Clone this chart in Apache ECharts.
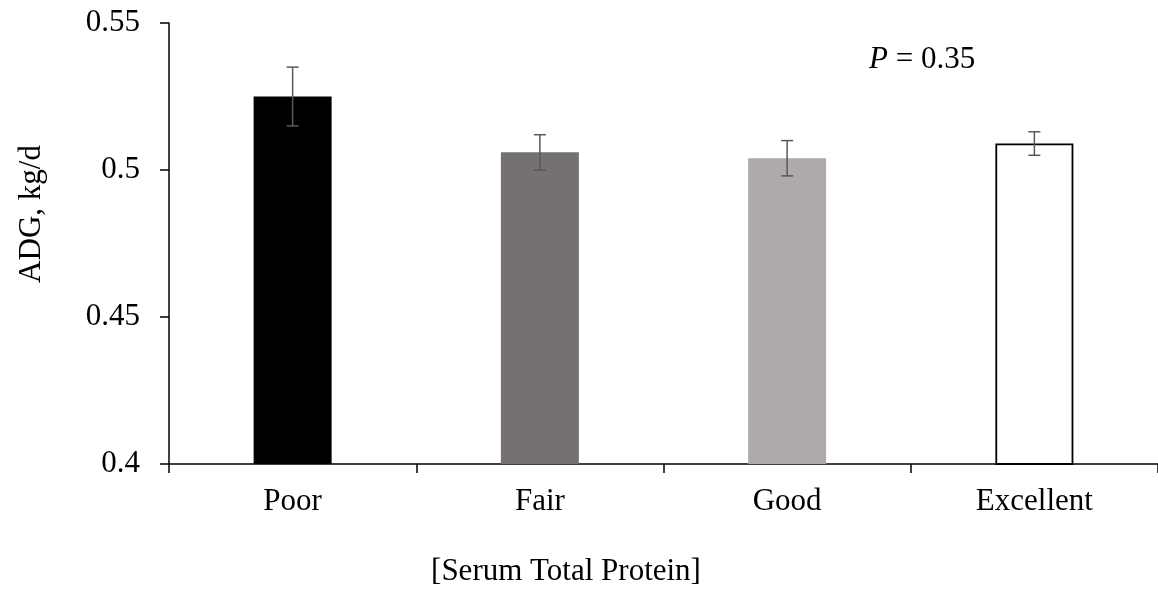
<!DOCTYPE html>
<html>
<head>
<meta charset="utf-8">
<script src="https://cdn.jsdelivr.net/npm/echarts@6/dist/echarts.min.js"></script>
<style>
  html, body { margin: 0; padding: 0; background: #fff; }
  #chart { width: 1158px; height: 589px; }
</style>
</head>
<body>
<div id="chart"></div>
<script>
// ADG by serum total protein category, with standard errors
const categories = ['Poor', 'Fair', 'Good', 'Excellent'];
const adgValues = [0.525, 0.506, 0.504, 0.509];
const adgErrors = [0.010, 0.006, 0.006, 0.004];
const barColors = ['#000000', '#767171', '#AEAAAA', '#FFFFFF'];
const yTicks = [0.4, 0.45, 0.5, 0.55];

const FONT = '"Liberation Serif", "DejaVu Serif", serif';
const FS = 31;
const chart = echarts.init(document.getElementById('chart'), null, { renderer: 'canvas' });

const errorData = categories.map((c, i) => [i, adgValues[i] - adgErrors[i], adgValues[i] + adgErrors[i]]);

chart.setOption({
  animation: false,
  backgroundColor: '#ffffff',
  grid: { left: 169, top: 23, width: 992, bottom: 125, containLabel: false },
  xAxis: {
    type: 'category',
    data: categories,
    axisLine: { show: true, lineStyle: { color: '#000', width: 1.5 } },
    axisTick: { show: true, length: 9, alignWithLabel: false, lineStyle: { color: '#000', width: 1.5 } },
    axisLabel: { color: '#000', fontFamily: FONT, fontSize: FS, margin: 22 },
    splitLine: { show: false }
  },
  yAxis: {
    type: 'value',
    min: 0.4,
    max: 0.55,
    interval: 0.05,
    axisLine: { show: true, lineStyle: { color: '#000', width: 1.5 } },
    axisTick: { show: true, length: 9, lineStyle: { color: '#000', width: 1.5 } },
    axisLabel: {
      color: '#000', fontFamily: FONT, fontSize: FS, margin: 29,
      formatter: v => {
        const t = yTicks.find(k => Math.abs(k - v) < 1e-9);
        return t === undefined ? '' : String(t);
      }
    },
    splitLine: { show: false }
  },
  series: [
    {
      type: 'bar',
      barWidth: 78,
      data: adgValues.map((v, i) => ({
        value: v,
        itemStyle: {
          color: barColors[i],
          borderColor: i === 3 ? '#000' : barColors[i],
          borderWidth: i === 3 ? 1.8 : 0
        }
      })),
      z: 2
    },
    {
      type: 'custom',
      data: errorData,
      z: 3,
      renderItem: (params, api) => {
        const x = api.value(0);
        const lo = api.coord([x, api.value(1)]);
        const hi = api.coord([x, api.value(2)]);
        const half = 6;
        const style = { stroke: '#595959', lineWidth: 1.5 };
        return {
          type: 'group',
          children: [
            { type: 'line', shape: { x1: hi[0], y1: hi[1], x2: lo[0], y2: lo[1] }, style },
            { type: 'line', shape: { x1: hi[0] - half, y1: hi[1], x2: hi[0] + half, y2: hi[1] }, style },
            { type: 'line', shape: { x1: lo[0] - half, y1: lo[1], x2: lo[0] + half, y2: lo[1] }, style }
          ]
        };
      }
    }
  ],
  graphic: [
    {
      type: 'text',
      left: 869,
      top: 44,
      style: {
        text: '{i|P} = 0.35',
        rich: {
          i: { fontFamily: FONT, fontSize: FS, fontStyle: 'italic', fill: '#000' }
        },
        fontFamily: FONT,
        fontSize: FS,
        fill: '#000'
      }
    },
    {
      type: 'text',
      x: 32,
      y: 214,
      rotation: Math.PI / 2,
      style: {
        text: 'ADG, kg/d',
        fontFamily: FONT,
        fontSize: FS,
        fill: '#000',
        align: 'center',
        verticalAlign: 'middle'
      }
    },
    {
      type: 'text',
      x: 566,
      y: 572,
      style: {
        text: '[Serum Total Protein]',
        fontFamily: FONT,
        fontSize: FS,
        fill: '#000',
        align: 'center',
        verticalAlign: 'middle'
      }
    }
  ]
});
</script>
</body>
</html>
